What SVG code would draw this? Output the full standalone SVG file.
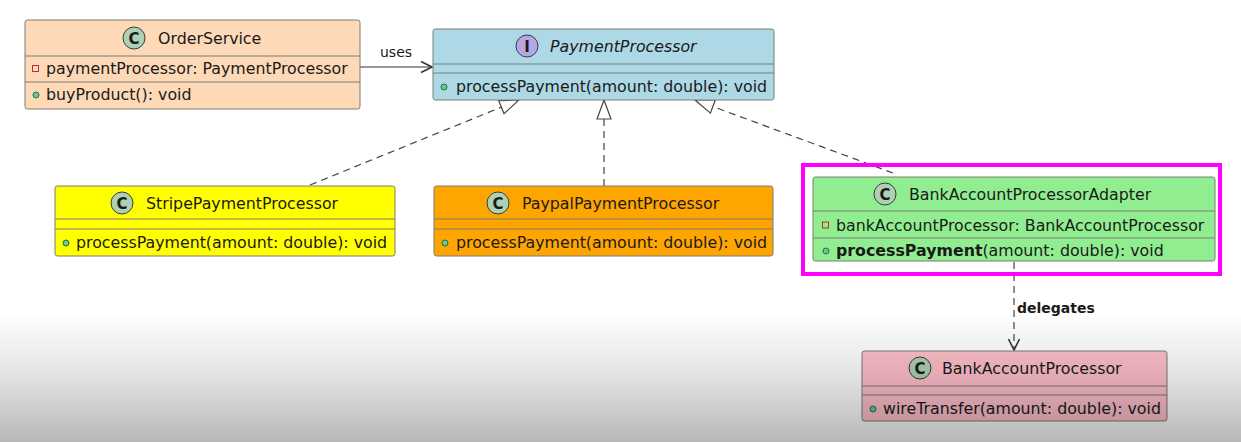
<svg xmlns="http://www.w3.org/2000/svg" width="1241" height="442" viewBox="0 0 1241 442">
<style>
  text { font-family: "DejaVu Sans", "Liberation Sans", sans-serif; fill: #1a1a1a; }
  .title { font-size: 15.8px; }
  .member { font-size: 15.8px; }
  .lbl { font-size: 14px; }
  .box { stroke: #7d7d72; stroke-width: 1; }
  .sep { stroke: #7d7d72; stroke-width: 1; }
  .circC { fill: #add1b2; stroke: #3c3c3c; stroke-width: 1; }
  .circI { fill: #b4a7e5; stroke: #3c3c3c; stroke-width: 1; }
  .glyph { font-size: 15px; font-weight: bold; text-anchor: middle; }
  .priv { fill: none; stroke: #c82930; stroke-width: 1; }
  .pub { fill: #84be84; stroke: #038048; stroke-width: 1; }
  .dash { fill: none; stroke: #444; stroke-width: 1.2; stroke-dasharray: 7 5; }
  .solid { fill: none; stroke: #333; stroke-width: 1.2; }
</style>
<defs>
  <marker id="tri" markerUnits="userSpaceOnUse" markerWidth="22" markerHeight="18" viewBox="0 0 22 18" refX="20" refY="8" orient="auto">
    <path d="M1,1 L20,8 L1,15 Z" fill="#fff" stroke="#444" stroke-width="1.2"/>
  </marker>
  <marker id="open" markerUnits="userSpaceOnUse" markerWidth="14" markerHeight="14" viewBox="0 0 14 14" refX="12" refY="7" orient="auto">
    <path d="M1,1.5 L12,7 L1,12.5" fill="none" stroke="#333" stroke-width="1.6"/>
  </marker>
  <linearGradient id="shade" x1="0" y1="0" x2="0" y2="1">
    <stop offset="0" stop-color="#000" stop-opacity="0"/>
    <stop offset="0.45" stop-color="#000" stop-opacity="0.1"/>
    <stop offset="1" stop-color="#000" stop-opacity="0.28"/>
  </linearGradient>
</defs>
<rect x="0" y="0" width="1241" height="442" fill="#ffffff"/>

<g id="connectors">
  <path class="solid" d="M360,67 L432,67" marker-end="url(#open)"/>
  <text class="lbl" x="380" y="57">uses</text>
  <path class="dash" d="M310,185 L519,100" marker-end="url(#tri)"/>
  <path class="dash" d="M604,186 L604,100" marker-end="url(#tri)"/>
  <path class="dash" d="M893,173 L695,100" marker-end="url(#tri)"/>
  <path class="dash" d="M1014,262 L1014,350" marker-end="url(#open)"/>
  <text class="lbl" x="1017" y="313" font-weight="bold">delegates</text>
</g>

<g id="OrderService">
  <rect class="box" x="25" y="20" width="335" height="89" rx="2.5" fill="#fdd9b7"/>
  <line class="sep" x1="25" y1="56" x2="360" y2="56"/>
  <line class="sep" x1="25" y1="82" x2="360" y2="82"/>
  <circle class="circC" cx="134" cy="38" r="11"/>
  <text class="glyph" x="134" y="43.5">C</text>
  <text class="title" x="158" y="44">OrderService</text>
  <rect class="priv" x="32.5" y="65.5" width="6" height="6"/>
  <text class="member" x="46" y="74">paymentProcessor: PaymentProcessor</text>
  <circle class="pub" cx="36" cy="95" r="3"/>
  <text class="member" x="46" y="100">buyProduct(): void</text>
</g>

<g id="PaymentProcessor">
  <rect class="box" x="433" y="29" width="341" height="71" rx="2.5" fill="#add8e6"/>
  <line class="sep" x1="433" y1="64" x2="774" y2="64"/>
  <line class="sep" x1="433" y1="73" x2="774" y2="73"/>
  <circle class="circI" cx="527" cy="46" r="11"/>
  <text class="glyph" x="527" y="51.5">I</text>
  <text class="title" x="550" y="52" font-style="italic">PaymentProcessor</text>
  <circle class="pub" cx="444" cy="87" r="3"/>
  <text class="member" x="456" y="92">processPayment(amount: double): void</text>
</g>

<g id="StripePaymentProcessor">
  <rect class="box" x="55" y="186" width="340" height="70" rx="2.5" fill="#ffff00"/>
  <line class="sep" x1="55" y1="219" x2="395" y2="219"/>
  <line class="sep" x1="55" y1="229" x2="395" y2="229"/>
  <circle class="circC" cx="122" cy="203" r="11"/>
  <text class="glyph" x="122" y="208.5">C</text>
  <text class="title" x="146" y="209">StripePaymentProcessor</text>
  <circle class="pub" cx="66" cy="243" r="3"/>
  <text class="member" x="76" y="248">processPayment(amount: double): void</text>
</g>

<g id="PaypalPaymentProcessor">
  <rect class="box" x="434" y="186" width="339" height="70" rx="2.5" fill="#ffa500"/>
  <line class="sep" x1="434" y1="219" x2="773" y2="219"/>
  <line class="sep" x1="434" y1="229" x2="773" y2="229"/>
  <circle class="circC" cx="498" cy="203" r="11"/>
  <text class="glyph" x="498" y="208.5">C</text>
  <text class="title" x="522" y="209">PaypalPaymentProcessor</text>
  <circle class="pub" cx="445" cy="243" r="3"/>
  <text class="member" x="456" y="248">processPayment(amount: double): void</text>
</g>

<g id="BankAccountProcessorAdapter">
  <rect x="803" y="165" width="417" height="109" fill="none" stroke="#ff00ff" stroke-width="4"/>
  <rect class="box" x="813" y="177" width="402" height="84" rx="2.5" fill="#90ee90"/>
  <line class="sep" x1="813" y1="211" x2="1215" y2="211"/>
  <line class="sep" x1="813" y1="238" x2="1215" y2="238"/>
  <circle class="circC" cx="885" cy="194" r="11"/>
  <text class="glyph" x="885" y="199.5">C</text>
  <text class="title" x="909" y="200">BankAccountProcessorAdapter</text>
  <rect class="priv" x="822.5" y="222" width="6" height="6"/>
  <text class="member" x="836" y="231">bankAccountProcessor: BankAccountProcessor</text>
  <circle class="pub" cx="826" cy="251" r="3"/>
  <text class="member" x="836" y="256"><tspan font-weight="bold">processPayment</tspan>(amount: double): void</text>
</g>

<g id="BankAccountProcessor">
  <rect class="box" x="862" y="351" width="305" height="70" rx="2.5" fill="#ffc0cb"/>
  <line class="sep" x1="862" y1="386" x2="1167" y2="386"/>
  <line class="sep" x1="862" y1="395" x2="1167" y2="395"/>
  <circle class="circC" cx="920" cy="368" r="11"/>
  <text class="glyph" x="920" y="373.5">C</text>
  <text class="title" x="942" y="374">BankAccountProcessor</text>
  <circle class="pub" cx="873" cy="409" r="3"/>
  <text class="member" x="883" y="414">wireTransfer(amount: double): void</text>
</g>

<rect x="0" y="312" width="1241" height="130" fill="url(#shade)" pointer-events="none"/>
</svg>
